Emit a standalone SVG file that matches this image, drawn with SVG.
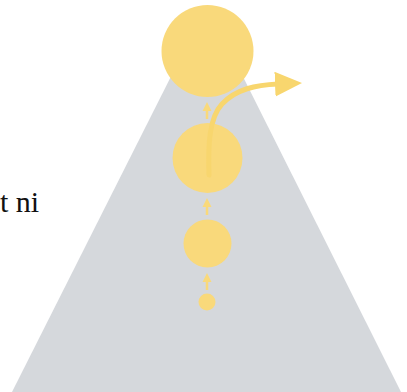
<svg xmlns="http://www.w3.org/2000/svg" width="407" height="392" viewBox="0 0 407 392">
<style>
.node{fill:#f9d97b}
.stem{stroke:#f9d97b;stroke-width:2.5;fill:none}
.head{fill:#f9d97b}
.txt{font-family:"Liberation Serif",serif;font-size:30px;fill:#111}
</style>
<defs>
<marker id="big" markerWidth="6" markerHeight="6" refX="0.6" refY="2.5" orient="auto" markerUnits="strokeWidth">
<path d="M0,0 L5.4,2.5 L0,5 Z" fill="#f8d66e"/>
</marker>
</defs>
<g id="bg">
<polygon points="207,5 12,392 401,392" fill="#d5d8dc"/>
</g>
<text class="txt" x="0" y="212">t ni</text>
<g id="n1"><circle class="node" cx="207.5" cy="51" r="46"/></g>
<g id="n2"><circle class="node" cx="207.5" cy="158" r="35"/></g>
<g id="n3"><circle class="node" cx="207.5" cy="243.5" r="24"/></g>
<g id="n4"><circle class="node" cx="207" cy="302" r="8.5"/></g>
<g id="connectors">
<line class="stem" x1="207" y1="110" x2="207" y2="119"/>
<polygon class="head" points="207,102 202.5,111 211.5,111"/>
<line class="stem" x1="207" y1="206" x2="207" y2="215"/>
<polygon class="head" points="207,198 202.5,207 211.5,207"/>
<line class="stem" x1="207" y1="281" x2="207" y2="290"/>
<polygon class="head" points="207,273 202.5,282 211.5,282"/>
<path d="M209,175 C208,145 209,118 222,104 C236,89 256,85 278,84" stroke="#f8d66e" stroke-width="5" fill="none" stroke-linecap="round" marker-end="url(#big)"/>
</g>
</svg>
